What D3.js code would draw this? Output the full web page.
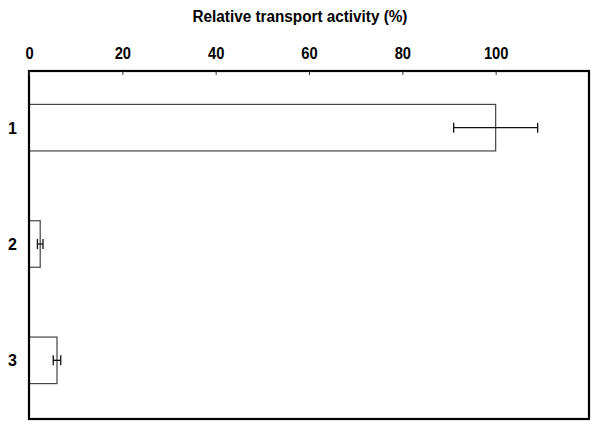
<!DOCTYPE html>
<html>
<head>
<meta charset="utf-8">
<script src="https://cdn.jsdelivr.net/npm/d3@7"></script>
<style>
  body { margin: 0; background: white; }
  text { font-family: "Liberation Sans", Arial, sans-serif; font-weight: bold; }
</style>
</head>
<body>
<div id="chart"></div>
<script>
// chart data
var categories = ['1', '2', '3'];
var activity = [100, 2.4, 6.0];
var errors = [9, 0.6, 0.8];
var xTicks = [0, 20, 40, 60, 80, 100];

var width = 600, height = 432,
    margin = {top: 71, right: 11, bottom: 13, left: 29};

var svg = d3.select('#chart')
            .append('svg')
            .attr('width', width)
            .attr('height', height);

var x = d3.scaleLinear()
          .domain([0, 120])
          .range([margin.left, width - margin.right]);

var y = d3.scaleBand()
          .domain(categories)
          .range([margin.top - 1.5, height - margin.bottom - 0.5])
          .paddingInner(0.6)
          .paddingOuter(0.3);

var data = categories.map(function (c, i) {
    return {cat: c, value: activity[i], err: errors[i]};
});

// bars
svg.selectAll('rect.bar')
   .data(data)
   .enter()
   .append('rect')
   .attr('class', 'bar')
   .attr('x', x(0))
   .attr('y', function (d) { return y(d.cat); })
   .attr('width', function (d) { return x(d.value) - x(0); })
   .attr('height', y.bandwidth())
   .attr('fill', 'white')
   .attr('stroke', '#444')
   .attr('stroke-width', 1.2);

// error bars
var errG = svg.selectAll('g.err')
              .data(data)
              .enter()
              .append('g')
              .attr('class', 'err')
              .attr('transform', function (d) {
                  return 'translate(0,' + (y(d.cat) + y.bandwidth() / 2) + ')';
              });

errG.append('line')
    .attr('x1', function (d) { return x(d.value - d.err); })
    .attr('x2', function (d) { return x(d.value + d.err); })
    .attr('stroke', '#111')
    .attr('stroke-width', 1.3);

[-1, 1].forEach(function (s) {
    errG.append('line')
        .attr('x1', function (d) { return x(d.value + s * d.err); })
        .attr('x2', function (d) { return x(d.value + s * d.err); })
        .attr('y1', -5)
        .attr('y2', 5)
        .attr('stroke', '#111')
        .attr('stroke-width', 1.3);
});

// frame
svg.append('rect')
   .attr('x', margin.left)
   .attr('y', margin.top)
   .attr('width', width - margin.left - margin.right)
   .attr('height', height - margin.top - margin.bottom)
   .attr('fill', 'none')
   .attr('stroke', 'black')
   .attr('stroke-width', 2.2);

// condensed bold text, like the original Helvetica
function condense(sel, k) {
    sel.each(function () {
        var t = d3.select(this),
            ax = +t.attr('x') || 0;
        t.attr('transform', 'translate(' + ax * (1 - k) + ',0) scale(' + k + ',1)');
    });
}

// top axis
var xAxis = d3.axisTop(x)
              .tickValues(xTicks)
              .tickSizeInner(-4)
              .tickSizeOuter(0)
              .tickPadding(12);

var gx = svg.append('g')
            .attr('transform', 'translate(0,' + margin.top + ')')
            .call(xAxis);
gx.select('.domain').remove();
gx.selectAll('.tick line').attr('stroke', '#333').attr('stroke-width', 1);
gx.selectAll('.tick text')
  .attr('font-size', 16)
  .attr('font-family', '"Liberation Sans", Arial, sans-serif')
  .attr('font-weight', 'bold')
  .attr('fill', 'black')
  .attr('transform', 'scale(0.92,1)');

// left axis labels
var yAxis = d3.axisLeft(y)
              .tickSize(0)
              .tickPadding(12);
var gy = svg.append('g')
            .attr('transform', 'translate(' + margin.left + ',1)')
            .call(yAxis);
gy.select('.domain').remove();
gy.selectAll('.tick text')
  .attr('font-size', 16)
  .attr('font-family', '"Liberation Sans", Arial, sans-serif')
  .attr('font-weight', 'bold')
  .attr('fill', 'black');

// title
svg.append('text')
   .attr('x', 300)
   .attr('y', 22)
   .attr('text-anchor', 'middle')
   .attr('font-size', 17)
   .text('Relative transport activity (%)')
   .call(condense, 0.9);
</script>
</body>
</html>
